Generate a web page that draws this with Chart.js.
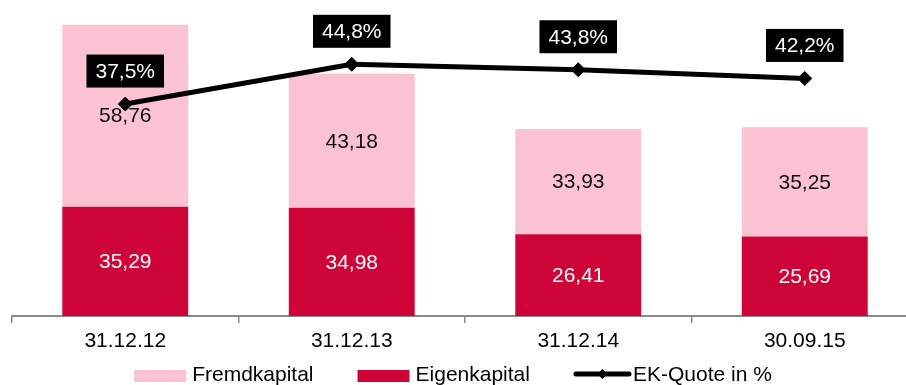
<!DOCTYPE html>
<html>
<head>
<meta charset="utf-8">
<title>Kapitalstruktur</title>
<script src="https://cdn.jsdelivr.net/npm/chart.js@4.4.0/dist/chart.umd.min.js"></script>
<style>
  html, body { margin: 0; padding: 0; background: #fff; overflow: hidden; }
  #wrap { position: relative; width: 906px; height: 385px; overflow: hidden; }
  #wrap canvas { position: absolute; left: 0; top: 0; }
</style>
</head>
<body>
<div id="wrap"><canvas id="kapital" width="920" height="385"></canvas></div>
<script>
    "use strict";

    // Stichtage und Werte (Mio. EUR / %)
    const stichtage = ['31.12.12', '31.12.13', '31.12.14', '30.09.15'];
    const eigenkapital = [35.29, 34.98, 26.41, 25.69];
    const fremdkapital = [58.76, 43.18, 33.93, 35.25];
    const ekQuote = [37.5, 44.8, 43.8, 42.2];

    const FONT = '"Liberation Sans", Arial, Helvetica, sans-serif';
    const ROT = '#CE0439';
    const ROSA = '#FBC3D2';
    const GRAU = '#8a8a8a';

    const deZahl = (v, n) => v.toFixed(n).replace('.', ',');


    // Werte in die Balken bzw. als schwarze Kaestchen ueber die Linie schreiben
    const wertLabels = {
        id: 'wertLabels',
        afterDatasetDraw: function (chart, args) {
            const ctx = chart.ctx;
            const ds = chart.data.datasets[args.index];
            ctx.save();
            ctx.font = '21px ' + FONT;
            ctx.textAlign = 'center';
            ctx.textBaseline = 'middle';
            args.meta.data.forEach(function (el, i) {
                const v = ds.data[i];
                if (ds.type === 'line') {
                    const txt = deZahl(v, 1) + '%';
                    const w = ctx.measureText(txt).width + 18;
                    const h = 33;
                    const cy = el.y - 33;
                    ctx.fillStyle = '#000';
                    ctx.fillRect(el.x - w / 2, cy - h / 2, w, h);
                    ctx.fillStyle = '#fff';
                    ctx.fillText(txt, el.x, cy + 1);
                } else {
                    ctx.fillStyle = ds.labelColor;
                    ctx.fillText(deZahl(v, 2), el.x, (el.y + el.base) / 2 + 1);
                }
            });
            ctx.restore();
        }
    };


    // Legende unten, mittig im sichtbaren Bereich
    const legende = {
        id: 'legende',
        afterDraw: function (chart) {
            const ctx = chart.ctx;
            const ds = chart.data.datasets;
            const items = [ds[2], ds[1], ds[0]];
            const boxW = 52, lineW = 57, abstand = 44;
            const yText = 381, yBox = 370, boxH = 12;
            ctx.save();
            ctx.font = '21px ' + FONT;
            ctx.textBaseline = 'alphabetic';
            ctx.textAlign = 'left';

            let total = 0;
            items.forEach(function (d, i) {
                const sym = d.type === 'line' ? lineW + 2 : boxW + 6;
                total += sym + ctx.measureText(d.label).width + (i < items.length - 1 ? abstand : 0);
            });
            const sichtbar = document.getElementById('wrap').clientWidth;
            let x = sichtbar / 2 - total / 2;

            items.forEach(function (d) {
                if (d.type === 'line') {
                    const ym = 374;
                    ctx.strokeStyle = '#000';
                    ctx.lineWidth = 5;
                    ctx.lineCap = 'round';
                    ctx.beginPath();
                    ctx.moveTo(x + 2, ym);
                    ctx.lineTo(x + lineW - 2, ym);
                    ctx.stroke();
                    const cx = x + lineW / 2;
                    ctx.fillStyle = '#000';
                    ctx.beginPath();
                    ctx.moveTo(cx - 5, ym);
                    ctx.lineTo(cx, ym - 5);
                    ctx.lineTo(cx + 5, ym);
                    ctx.lineTo(cx, ym + 5);
                    ctx.closePath();
                    ctx.fill();
                    x += lineW + 2;
                } else {
                    ctx.fillStyle = d.backgroundColor;
                    ctx.fillRect(x, yBox, boxW, boxH);
                    x += boxW + 6;
                }
                ctx.fillStyle = '#000';
                ctx.fillText(d.label, x, yText);
                x += ctx.measureText(d.label).width + abstand;
            });
            ctx.restore();
        }
    };


    const ctx = document.getElementById('kapital');
    const kapitalChart = new Chart(ctx, {
        type: 'bar',
        data: {
            labels: stichtage,
            datasets: [{
                type: 'line',
                label: 'EK-Quote in %',
                data: ekQuote,
                yAxisID: 'y2',
                borderColor: '#000',
                backgroundColor: '#000',
                borderWidth: 5,
                pointStyle: 'rectRot',
                pointRadius: 7,
                pointBackgroundColor: '#000',
                pointBorderColor: '#000',
                pointBorderWidth: 1,
                tension: 0,
                order: 0
            }, {
                label: 'Eigenkapital',
                data: eigenkapital,
                backgroundColor: ROT,
                labelColor: '#fff',
                order: 1
            }, {
                label: 'Fremdkapital',
                data: fremdkapital,
                backgroundColor: ROSA,
                labelColor: '#111',
                order: 1
            }]
        },
        options: {
            responsive: false,
            animation: false,
            categoryPercentage: 1,
            barPercentage: 0.556,
            layout: {
                autoPadding: false,
                padding: { left: 12, right: 2, top: 0, bottom: 29 }
            },
            plugins: {
                legend: { display: false },
                tooltip: { enabled: false }
            },
            scales: {
                x: {
                    stacked: true,
                    grid: {
                        drawOnChartArea: false,
                        drawTicks: true,
                        tickLength: 7,
                        color: GRAU,
                        lineWidth: 1.5
                    },
                    border: { display: true, color: GRAU, width: 2 },
                    ticks: {
                        color: '#000',
                        padding: 6,
                        font: { size: 21, family: FONT }
                    },
                    afterFit: function (scale) { scale.height = 40; }
                },
                y: {
                    stacked: true,
                    display: false,
                    min: 0,
                    max: 102
                },
                y2: {
                    display: false,
                    min: -1.4,
                    max: 56.6
                }
            }
        },
        plugins: [wertLabels, legende]
    });
</script>
</body>
</html>
